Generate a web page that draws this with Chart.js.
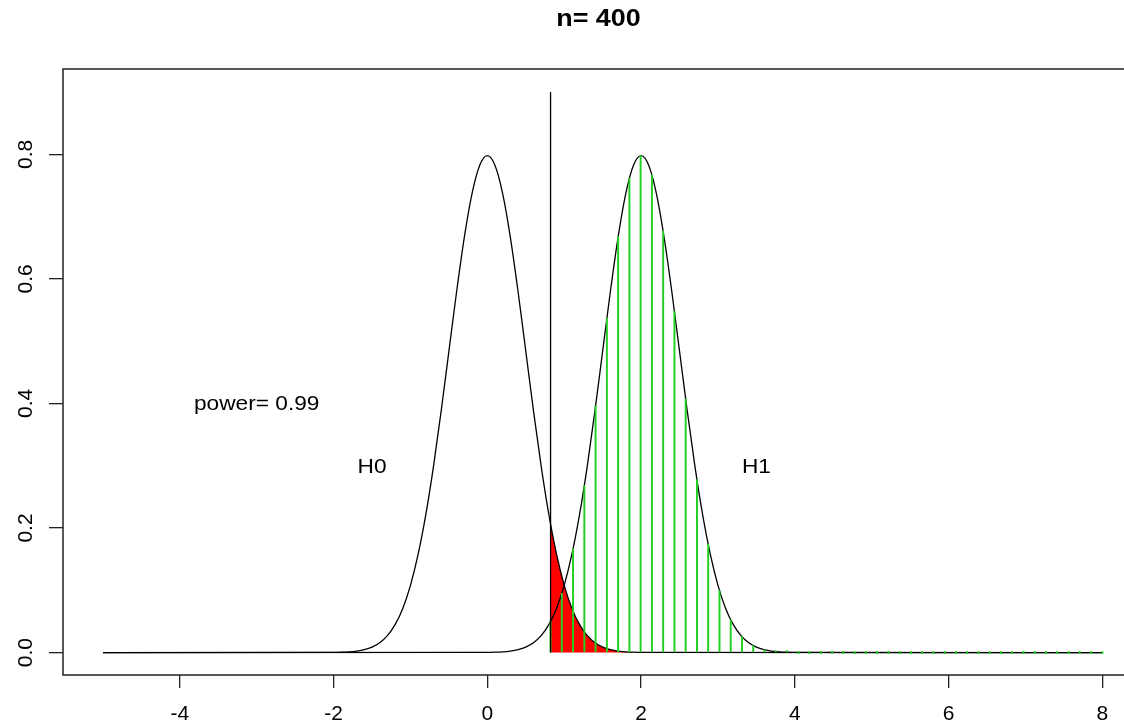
<!DOCTYPE html>
<html><head><meta charset="utf-8">
<script src="https://cdn.jsdelivr.net/npm/chart.js@4/dist/chart.umd.min.js"></script>
<style>html,body{margin:0;padding:0;background:#fff;overflow:hidden;width:1124px;height:728px}canvas{display:block}</style>
</head><body>
<canvas id="c" width="1146" height="728"></canvas>
<script>
const titleText = 'n= 400';
const xTicks = [-4, -2, 0, 2, 4, 6, 8];
const xTickLabels = ['-4', '-2', '0', '2', '4', '6', '8'];
const yTicks = [0, 0.2, 0.4, 0.6, 0.8];
const yTickLabels = ['0.0', '0.2', '0.4', '0.6', '0.8'];

// H0 density curve (mean 0)
const h0X = [-5, -2.0, -1.9, -1.8, -1.7, -1.6, -1.5, -1.4, -1.3, -1.2, -1.1, -1.0, -0.9, -0.8, -0.7, -0.6, -0.5, -0.4, -0.3, -0.2, -0.1,
  0.0, 0.1, 0.2, 0.3, 0.4, 0.5, 0.6, 0.7, 0.8, 0.9, 1.0, 1.1, 1.2, 1.3, 1.4, 1.5, 1.6, 1.7, 1.8, 1.9, 2.0, 8];
const h0Y = [0, 0.0003, 0.0006, 0.0012, 0.0025, 0.0048, 0.0089, 0.0158, 0.0272, 0.0448, 0.0709, 0.1080, 0.1579, 0.2218, 0.2995, 0.3884, 0.4839, 0.5794, 0.6664, 0.7365, 0.7821,
  0.7979, 0.7821, 0.7365, 0.6664, 0.5794, 0.4839, 0.3884, 0.2995, 0.2218, 0.1579, 0.1080, 0.0709, 0.0448, 0.0272, 0.0158, 0.0089, 0.0048, 0.0025, 0.0012, 0.0006, 0.0003, 0];

// H1 density curve (mean 2)
const h1X = [-5, 0.0, 0.1, 0.2, 0.3, 0.4, 0.5, 0.6, 0.7, 0.8, 0.9, 1.0, 1.1, 1.2, 1.3, 1.4, 1.5, 1.6, 1.7, 1.8, 1.9,
  2.0, 2.1, 2.2, 2.3, 2.4, 2.5, 2.6, 2.7, 2.8, 2.9, 3.0, 3.1, 3.2, 3.3, 3.4, 3.5, 3.6, 3.7, 3.8, 3.9, 4.0, 8];
const h1Y = [0, 0.0003, 0.0006, 0.0012, 0.0025, 0.0048, 0.0089, 0.0158, 0.0272, 0.0448, 0.0709, 0.1080, 0.1579, 0.2218, 0.2995, 0.3884, 0.4839, 0.5794, 0.6664, 0.7365, 0.7821,
  0.7979, 0.7821, 0.7365, 0.6664, 0.5794, 0.4839, 0.3884, 0.2995, 0.2218, 0.1579, 0.1080, 0.0709, 0.0448, 0.0272, 0.0158, 0.0089, 0.0048, 0.0025, 0.0012, 0.0006, 0.0003, 0];

// Red region: H0 tail beyond the critical value
const alphaX = [0.8224, 0.9, 1.0, 1.1, 1.2, 1.3, 1.4, 1.5, 1.6, 1.7, 1.8, 1.9, 2.0, 8];
const alphaY = [0.2063, 0.1579, 0.1080, 0.0709, 0.0448, 0.0272, 0.0158, 0.0089, 0.0048, 0.0025, 0.0012, 0.0006, 0.0003, 0];

// Green hatch lines under H1 beyond the critical value
const hatchX = [0.822, 0.969, 1.115, 1.262, 1.408, 1.555, 1.701, 1.848, 1.994, 2.141, 2.287, 2.434, 2.580, 2.727, 2.873, 3.020, 3.166, 3.313, 3.459, 3.606,
  3.752, 3.898, 4.045, 4.191, 4.338, 4.484, 4.631, 4.777, 4.924, 5.070, 5.217, 5.363, 5.510, 5.656, 5.803, 5.949, 6.096, 6.242, 6.389, 6.535,
  6.682, 6.828, 6.975, 7.121, 7.268, 7.414, 7.561, 7.707, 7.854, 8.000];
const hatchY = [0.0498, 0.0952, 0.1667, 0.2683, 0.3960, 0.5367, 0.6675, 0.7618, 0.7979, 0.7668, 0.6767, 0.5474, 0.4072, 0.2773, 0.1738, 0.0996, 0.0526, 0.0254, 0.0113, 0.0046,
  0.0017, 0.0006, 0, 0, 0, 0, 0, 0, 0, 0, 0, 0, 0, 0, 0, 0, 0, 0, 0, 0,
  0, 0, 0, 0, 0, 0, 0, 0, 0, 0];

// Critical value line
const critX = [0.8224, 0.8224];
const critY = [0, 0.9];

// Text annotations
const noteText = ['power= 0.99', 'H0', 'H1'];
const noteX = [-3, -1.5, 3.5];
const noteY = [0.4, 0.3, 0.3];

const FONT = '"Liberation Sans", Arial, Helvetica, sans-serif';
const pts = (xs, ys) => xs.map((x, i) => ({x: x, y: ys[i]}));

function stretchedText(ctx, t, x, y, sx) {
  ctx.save();
  ctx.translate(x, y);
  ctx.scale(sx, 1);
  ctx.fillText(t, 0, 0);
  ctx.restore();
}

const decor = {
  id: 'decor',
  afterDatasetsDraw(chart) {
    const ctx = chart.ctx, a = chart.chartArea;
    const xs = chart.scales.x, ys = chart.scales.y;
    ctx.save();
    ctx.fillStyle = '#000';
    ctx.font = '21px ' + FONT;
    ctx.textAlign = 'center';
    ctx.textBaseline = 'middle';
    noteText.forEach((t, i) => {
      stretchedText(ctx, t, xs.getPixelForValue(noteX[i]), ys.getPixelForValue(noteY[i]) + 1, 1.08);
    });
    ctx.strokeStyle = '#222';
    ctx.lineWidth = 1.5;
    ctx.strokeRect(a.left, a.top, a.right - a.left, a.bottom - a.top);
    ctx.font = 'bold 23px ' + FONT;
    stretchedText(ctx, titleText, 598.5, 20, 1.17);
    ctx.restore();
  }
};

new Chart(document.getElementById('c'), {
  type: 'scatter',
  data: {
    datasets: [
      {type: 'line', data: pts(alphaX, alphaY), showLine: true, fill: 'origin', backgroundColor: '#ff0000',
       borderWidth: 0, borderColor: 'rgba(0,0,0,0)', pointRadius: 0, cubicInterpolationMode: 'monotone', order: 6},
      {type: 'line', data: pts(h0X, h0Y), showLine: true, fill: false, borderColor: '#000', borderWidth: 1.3,
       pointRadius: 0, cubicInterpolationMode: 'monotone', order: 4},
      {type: 'line', data: pts(h1X, h1Y), showLine: true, fill: false, borderColor: '#000', borderWidth: 1.3,
       pointRadius: 0, cubicInterpolationMode: 'monotone', order: 3},
      {type: 'bar', data: pts(hatchX, hatchY), backgroundColor: '#22d022', barThickness: 1.3, minBarLength: 2,
       borderWidth: 0, order: 2},
      {type: 'line', data: pts(critX, critY), showLine: true, fill: false, borderColor: '#000', borderWidth: 1.3,
       pointRadius: 0, order: 1}
    ]
  },
  options: {
    responsive: false,
    animation: false,
    events: [],
    layout: {padding: {top: 69, right: 3.7, left: 0, bottom: 0}},
    plugins: {legend: {display: false}, tooltip: {enabled: false}, title: {display: false}},
    scales: {
      x: {
        type: 'linear', min: -5.52, max: 8.52, offset: false,
        afterBuildTicks: s => { s.ticks = xTicks.map(v => ({value: v})); },
        afterFit: s => { s.height = 53; },
        ticks: {callback: (v, i) => xTickLabels[i], font: {size: 21, family: FONT}, color: '#000',
                padding: 14, maxRotation: 0, minRotation: 0, autoSkip: false},
        grid: {offset: false, drawOnChartArea: false, drawTicks: true, tickLength: 13, color: '#222', lineWidth: 1.3},
        border: {display: false}
      },
      y: {
        type: 'linear', min: -0.036, max: 0.937,
        afterBuildTicks: s => { s.ticks = yTicks.map(v => ({value: v})); },
        afterFit: s => { s.width = 63; },
        ticks: {callback: (v, i) => yTickLabels[i], font: {size: 21, family: FONT}, color: '#000',
                padding: 8, minRotation: 90, maxRotation: 90, crossAlign: 'center', autoSkip: false},
        grid: {drawOnChartArea: false, drawTicks: true, tickLength: 14, color: '#222', lineWidth: 1.3},
        border: {display: false}
      }
    }
  },
  plugins: [decor]
});
</script>
</body></html>
